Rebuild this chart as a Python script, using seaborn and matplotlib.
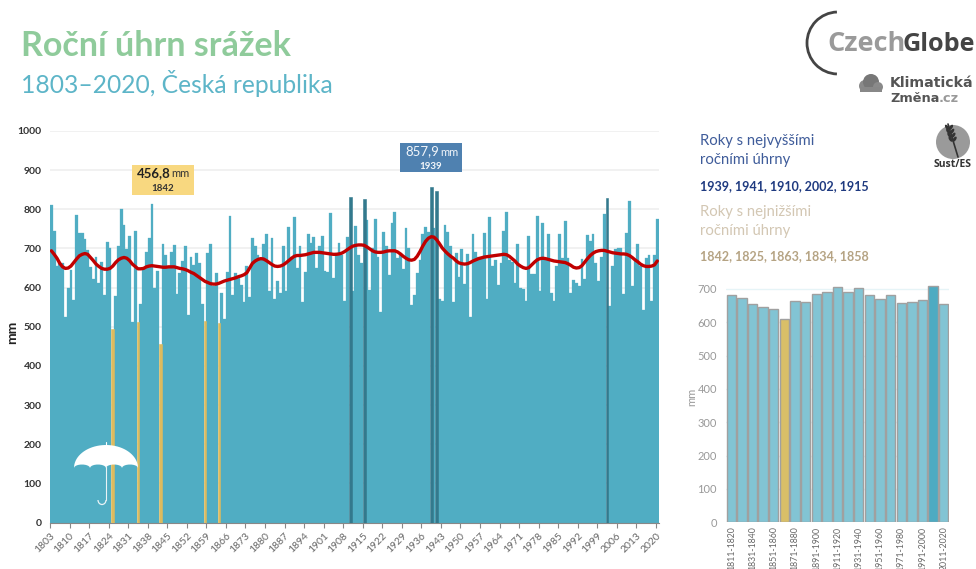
import numpy as np
import pandas as pd
import matplotlib
matplotlib.use("Agg")
import matplotlib.pyplot as plt
import seaborn as sns
from matplotlib.patches import Arc, Circle, Ellipse, Polygon, Rectangle

years = list(range(1803, 2021))
rain = [
    811, 745, 656, 664, 664, 526, 598, 645, 568, 786, 739, 739, 723, 696, 652, 621, 679, 611, 666, 580,
    717, 700, 495, 579, 707, 802, 760, 698, 733, 511, 745, 511, 558, 650, 692, 726, 814, 598, 642, 457,
    711, 683, 654, 692, 709, 584, 638, 669, 707, 530, 679, 658, 689, 662, 557, 515, 688, 711, 605, 637,
    509, 586, 520, 641, 784, 580, 637, 628, 607, 562, 654, 577, 726, 706, 683, 675, 711, 736, 592, 726,
    571, 617, 587, 707, 592, 754, 677, 780, 649, 707, 563, 639, 736, 715, 730, 649, 706, 732, 643, 639,
    790, 625, 688, 713, 683, 567, 730, 831, 592, 758, 683, 664, 826, 773, 594, 700, 775, 677, 537, 741,
    705, 632, 766, 792, 675, 689, 648, 751, 700, 556, 580, 638, 670, 736, 756, 743, 857.9, 751, 848, 571,
    567, 760, 743, 706, 564, 688, 628, 698, 608, 686, 524, 736, 692, 679, 677, 739, 571, 780, 656, 670,
    607, 664, 745, 792, 670, 666, 613, 711, 598, 597, 567, 733, 635, 635, 782, 592, 764, 670, 736, 587,
    567, 656, 737, 675, 769, 675, 587, 620, 611, 603, 673, 621, 734, 720, 737, 662, 616, 679, 787, 828,
    553, 654, 698, 700, 702, 584, 740, 820, 604, 672, 711, 654, 543, 675, 684, 567, 683, 776,
]
trend = [
    694, 685, 675, 662, 653, 649, 650, 655, 664, 673, 681, 685, 687, 685, 677, 669, 660, 654, 649, 647,
    647, 649, 655, 664, 671, 675, 677, 675, 669, 660, 654, 648, 648, 649, 653, 655, 656, 655, 654, 653,
    652, 652, 653, 653, 653, 651, 649, 648, 646, 643, 639, 636, 631, 626, 621, 616, 613, 610, 609, 609,
    611, 614, 617, 619, 621, 623, 625, 628, 630, 633, 638, 650, 662, 668, 672, 674, 673, 669, 664, 659,
    655, 654, 655, 658, 663, 669, 675, 680, 682, 682, 683, 684, 686, 688, 690, 690, 690, 689, 688, 687,
    686, 685, 685, 686, 688, 692, 697, 702, 706, 708, 709, 709, 708, 704, 699, 694, 691, 690, 690, 691,
    693, 694, 694, 694, 691, 686, 680, 675, 671, 670, 672, 680, 692, 706, 718, 726, 730, 729, 722, 712,
    701, 693, 686, 680, 675, 668, 663, 661, 660, 661, 664, 668, 671, 674, 676, 678, 679, 680, 681, 682,
    683, 684, 685, 684, 680, 674, 668, 660, 655, 651, 649, 651, 658, 665, 671, 674, 675, 674, 672, 670,
    668, 667, 666, 665, 664, 661, 657, 652, 650, 651, 656, 665, 674, 682, 688, 692, 694, 695, 695, 693,
    691, 689, 688, 687, 686, 686, 685, 682, 677, 671, 666, 660, 656, 654, 654, 655, 658, 668,
]
wet_years = [1939, 1941, 1910, 2002, 1915]
dry_years = [1842, 1825, 1863, 1834, 1858]

decades = [f"{y}-{y + 9}" for y in range(1811, 2012, 10)]
decade_rain = [683, 672, 655, 645, 641, 611, 665, 662, 685, 691, 705, 692, 702, 682, 670, 681, 659, 662, 666, 709, 656]
dry_decade = "1861-1870"
wet_decade = "2001-2010"

W, H = 976, 569
BAR = "#50ADC3"
GRID = "#efefef"

sns.set_style("white")
plt.rcParams["font.family"] = ["Lato", "DejaVu Sans"]

fig = plt.figure(figsize=(W / 100, H / 100), dpi=100)


def axes_px(x0, y0, x1, y1):
    return fig.add_axes([x0 / W, 1 - y1 / H, (x1 - x0) / W, (y1 - y0) / H])


# main chart
df = pd.DataFrame({"rok": years, "mm": rain})
df["typ"] = "normal"
df.loc[df["rok"].isin(wet_years), "typ"] = "wet"
df.loc[df["rok"].isin(dry_years), "typ"] = "dry"

ax = axes_px(50, 131, 658.7, 522.5)
sns.barplot(data=df, x="rok", y="mm", hue="typ", hue_order=["normal", "dry", "wet"], dodge=False, width=1,
            saturation=1, legend=False, ax=ax, palette={"normal": BAR, "wet": "#33798D", "dry": "#DDBB5E"}, zorder=2)
for i, bars in enumerate(ax.containers):
    for p in bars:
        p.set_edgecolor(p.get_facecolor())
        p.set_linewidth(0.2 if i == 0 else 0.4)
        p.set_zorder(2 + i)
sns.lineplot(x=np.arange(len(trend)), y=trend, color="#C00000", lw=2.4, ax=ax, zorder=6)
ax.set_xlim(-0.5, len(years) - 0.5)
ax.set_ylim(0, 1000)
ax.set_yticks(range(0, 1001, 100))
ax.grid(axis="y", color=GRID, lw=1.2, zorder=0)
ax.set_axisbelow(True)
tick_years = list(range(1803, 2021, 7))
ax.set_xticks([y - 1803 - 0.5 for y in tick_years])
ax.set_xticklabels(tick_years, rotation=45, ha="right", rotation_mode="anchor", fontsize=7.5, color="#666666")
ax.tick_params(axis="x", length=3.5, width=0.8, color="#888888", bottom=True, pad=3)
ax.tick_params(axis="y", length=0, labelsize=7.5, labelcolor="#333333", pad=6)
for lab in ax.get_yticklabels():
    lab.set_fontweight("bold")
ax.set_xlabel("")
ax.set_ylabel("")
sns.despine(ax=ax, left=True)
ax.spines["bottom"].set_color("#888888")

# decade chart
df2 = pd.DataFrame({"dekada": decades, "mm": decade_rain})
df2["typ"] = "normal"
df2.loc[df2["dekada"] == dry_decade, "typ"] = "dry"
df2.loc[df2["dekada"] == wet_decade, "typ"] = "wet"

ax2 = axes_px(726, 282.3, 949, 522.3)
sns.barplot(data=df2, x="dekada", y="mm", hue="typ", dodge=False, width=0.88, saturation=1, legend=False, ax=ax2,
            palette={"normal": "#82C4D4", "wet": "#4EABC2", "dry": "#D9BF68"},
            edgecolor="#a0a0a0", linewidth=1, zorder=2)
ax2.set_xlim(-0.5, len(decades) - 0.5)
ax2.set_ylim(0, 720)
ax2.set_yticks(range(0, 701, 100))
ax2.grid(axis="y", color="#e6f4f7", lw=1, zorder=0)
ax2.set_axisbelow(True)
ax2.set_xticks(range(0, len(decades), 2))
ax2.set_xticklabels(decades[::2], rotation=90, fontsize=6.3, color="#666666", va="top")
ax2.tick_params(axis="x", length=0, pad=3)
ax2.tick_params(axis="y", length=0, labelsize=8, labelcolor="#999999", pad=6.5)
ax2.set_xlabel("")
ax2.set_ylabel("")
sns.despine(ax=ax2, left=True, bottom=True)

# everything else is placed in pixels over the charts
deco = fig.add_axes([0, 0, 1, 1], zorder=10)
deco.set_xlim(0, W)
deco.set_ylim(H, 0)
deco.axis("off")
deco.patch.set_alpha(0)

deco.text(21, 46, "Roční úhrn srážek", fontsize=24.5, fontweight="bold", color="#8FCB9B", va="center")
deco.text(21, 83, "1803–2020, Česká republika", fontsize=17.7, color="#5DB5C8", va="center")
deco.text(12, 332, "mm", fontsize=10, fontweight="bold", color="#222222", va="center", ha="center", rotation=90)
deco.text(692, 397, "mm", fontsize=8, color="#999999", va="center", ha="center", rotation=90)

deco.add_patch(Rectangle((132, 165), 62, 30, color="#F8D880", lw=0))
deco.text(137, 173, "456,8", fontsize=9.5, fontweight="bold", color="#222222", va="center")
deco.text(171, 173, "mm", fontsize=8, color="#333333", va="center")
deco.text(163, 188, "1842", fontsize=7, fontweight="bold", color="#333333", va="center", ha="center")
deco.add_patch(Rectangle((400, 143), 62, 29, color="#4F81B0", lw=0))
deco.text(405, 151, "857,9", fontsize=9.5, color="#f2f6fa", va="center")
deco.text(440, 152, "mm", fontsize=8, color="#f2f6fa", va="center")
deco.text(431, 166, "1939", fontsize=7, fontweight="bold", color="#f2f6fa", va="center", ha="center")

# umbrella
t = np.linspace(np.pi, 0, 40)
top = np.column_stack([106 + 32 * np.cos(t), 468 - 23 * np.sin(t)])
edge = []
for start, end in [(138, 122), (122, 106), (106, 90), (90, 74)]:
    s = np.linspace(0, np.pi, 10)
    edge.append(np.column_stack([(start + end) / 2 + (start - end) / 2 * np.cos(s), 468 - 3.5 * np.sin(s)]))
deco.add_patch(Polygon(np.vstack([top] + edge), color="white", lw=0))
deco.plot([106, 106], [445, 442], color="white", lw=0.8)
deco.plot([106, 106], [466, 500], color="#e8f3f6", lw=0.8)
deco.add_patch(Arc((102, 500), 8, 9, theta1=0, theta2=180, color="#e8f3f6", lw=0.9))

# side texts
deco.text(700, 141, "Roky s nejvyššími", fontsize=10.7, color="#3F5C9A", va="center")
deco.text(700, 160, "ročními úhrny", fontsize=10.7, color="#3F5C9A", va="center")
deco.text(700, 186, ", ".join(str(y) for y in wet_years), fontsize=9, fontweight="bold", color="#1F3A80", va="center")
deco.text(700, 212, "Roky s nejnižšími", fontsize=10.7, color="#D3C7B3", va="center")
deco.text(700, 231, "ročními úhrny", fontsize=10.7, color="#D3C7B3", va="center")
deco.text(700, 256, ", ".join(str(y) for y in dry_years), fontsize=9, fontweight="bold", color="#B5A383", va="center")

# logos
deco.add_patch(Arc((838, 43), 62, 62, theta1=92, theta2=268, color="#444444", lw=2))
deco.text(827, 44, "Czech", fontsize=19.5, fontweight="bold", color="#9a9a9a", va="center", family="Open Sans")
deco.text(903, 44, "Globe", fontsize=18.2, fontweight="bold", color="#444444", va="center", family="Open Sans")
for cx, cy, r, col in [(865, 86, 6, "#8a8a8a"), (871, 82, 8, "#777777"), (878, 87, 5, "#8a8a8a")]:
    deco.add_patch(Circle((cx, cy), r, color=col, lw=0))
deco.add_patch(Rectangle((860, 87), 22, 5, color="#888888", lw=0))
deco.text(890, 83, "Klimatická", fontsize=10.2, fontweight="bold", color="#555555", va="center", family="DejaVu Sans")
deco.text(890, 98, "Změna", fontsize=9.3, fontweight="bold", color="#555555", va="center", family="DejaVu Sans")
deco.text(939, 98, ".cz", fontsize=9.3, fontweight="bold", color="#999999", va="center", family="DejaVu Sans")
deco.add_patch(Circle((953, 142), 17, color="#9a9a9a", lw=0))
deco.plot([948, 958], [124, 157], color="#333333", lw=1.2)
for frac in [0.1, 0.22, 0.34, 0.46]:
    x, y = 948 + 10 * frac, 124 + 33 * frac
    deco.add_patch(Ellipse((x - 2, y), 3, 6, angle=-35, color="#333333", lw=0))
    deco.add_patch(Ellipse((x + 2, y), 3, 6, angle=35, color="#333333", lw=0))
deco.text(953, 164, "Sust/ES", fontsize=7.5, fontweight="bold", color="#333333", va="center", ha="center", family="Open Sans")

fig.savefig("out.png", dpi=100)
